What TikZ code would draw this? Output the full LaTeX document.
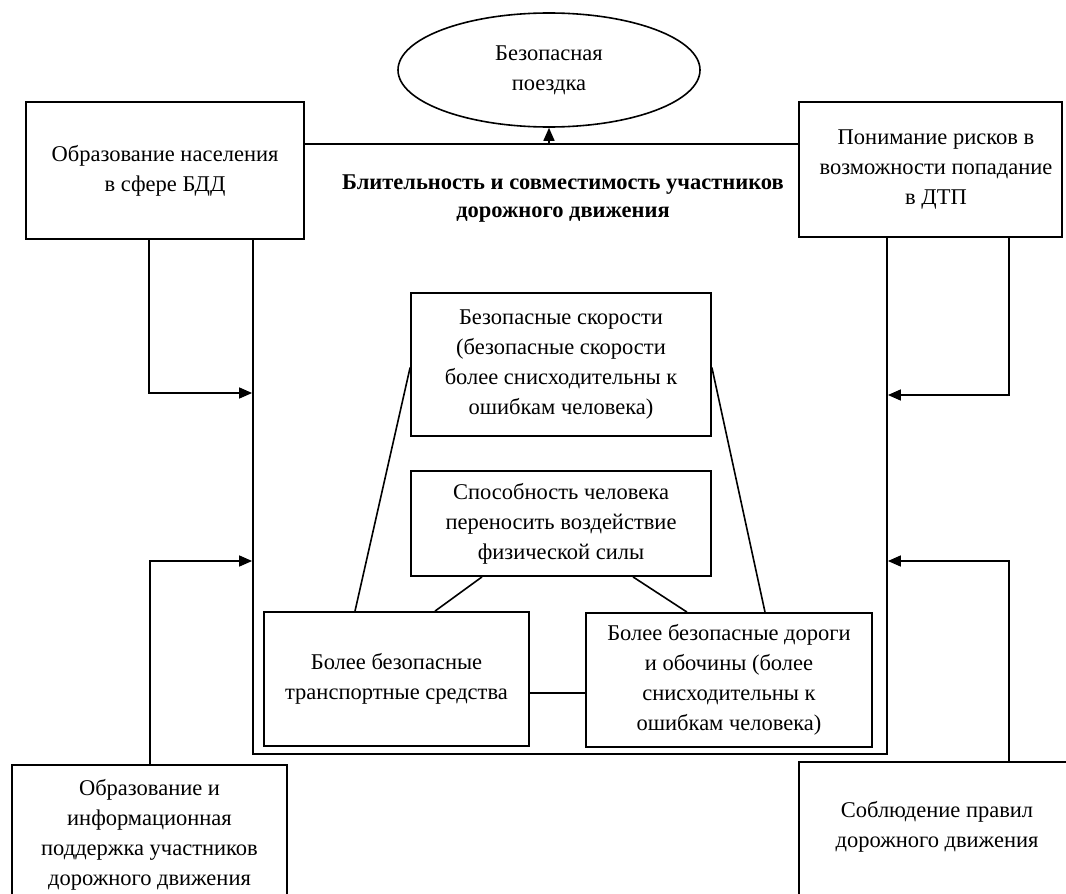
\documentclass[tikz,border=0pt]{standalone}
\usepackage{fontspec}
\setmainfont{Liberation Serif}
\usetikzlibrary{arrows.meta,shapes.geometric}
\begin{document}
\begin{tikzpicture}[x=1pt,y=-1pt,
  every node/.style={font=\fontsize{22.5}{30}\selectfont, align=center, inner sep=0pt},
  box/.style={draw, line width=1.8pt, fill=white},
  ln/.style={line width=1.6pt},
  arr/.style={line width=1.6pt, -{Triangle[length=13pt,width=11pt]}}]
\useasboundingbox (0,0) rectangle (1066,894);
\clip (0,0) rectangle (1066,894);
% outer frame
\node[draw, line width=1.8pt, minimum width=634pt, minimum height=610pt] (frame) at (570,449) {};
% boxes
\node[box, minimum width=278pt, minimum height=137pt] (tl) at (165,170.5) {Образование населения\\в сфере БДД};
\node[box, minimum width=263pt, minimum height=135pt] (tr) at (930.5,169.5) {};
\node (trt) at (936,170) {Понимание рисков в\\возможности попадание\\в ДТП};
\node[box, minimum width=300pt, minimum height=143pt] (b1) at (561,364.5) {Безопасные скорости\\(безопасные скорости\\более снисходительны к\\ошибкам человека)};
\node[box, minimum width=300pt, minimum height=105pt] (b2) at (561,523.5) {Способность человека\\переносить воздействие\\физической силы};
\node[box, minimum width=265pt, minimum height=134pt] (b3) at (396.5,679) {Более безопасные\\транспортные средства};
\node[box, minimum width=286pt, minimum height=134pt] (b4) at (729,680) {Более безопасные дороги\\и обочины (более\\снисходительны к\\ошибкам человека)};
\node[box, minimum width=275pt, minimum height=146pt] (bl) at (149.5,838) {};
\node (blt) at (149.5,835) {Образование и\\информационная\\поддержка участников\\дорожного движения};
\node[box, minimum width=276pt, minimum height=150pt] (br) at (937,837) {};
\node (brt) at (937,827) {Соблюдение правил\\дорожного движения};
\node[draw, ellipse, line width=1.6pt, minimum width=302pt, minimum height=114pt] (goal) at (549,70) {Безопасная\\поездка};
\node[font=\bfseries\fontsize{22.5}{28}\selectfont] (lbl) at (563,199) {Блительность и совместимость участников\\дорожного движения};
% helper levels
\coordinate (yl1) at (0,393);
\coordinate (yr1) at (0,395);
\coordinate (y2) at (0,561);
% connectors
\draw[arr] (goal.south |- frame.north) -- (goal.south);
\draw[arr] ([xshift=-16pt]tl.south) |- (frame.west |- yl1);
\draw[arr] ([xshift=78.5pt]tr.south) |- (frame.east |- yr1);
\draw[arr] ([xshift=0.5pt]bl.north) |- (frame.west |- y2);
\draw[arr] ([xshift=72pt]br.north) |- (frame.east |- y2);
% inner links
\draw[ln] ([yshift=-3pt]b1.west) -- ([xshift=-41.5pt]b3.north);
\draw[ln] ([yshift=-3pt]b1.east) -- ([xshift=36pt]b4.north);
\draw[ln] ([xshift=-79pt]b2.south) -- ([xshift=38.5pt]b3.north);
\draw[ln] ([xshift=72pt]b2.south) -- ([xshift=-42pt]b4.north);
\draw[ln] ([yshift=-14pt]b3.east) -- ([yshift=-14pt]b3.east -| b4.west);
\end{tikzpicture}
\end{document}
